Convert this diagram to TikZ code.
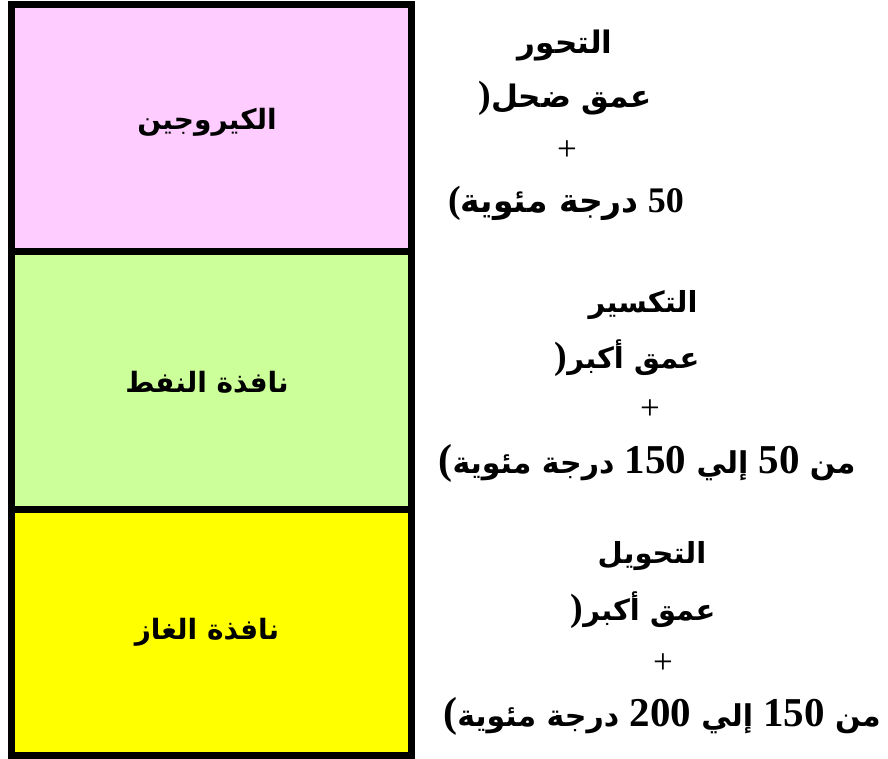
\documentclass[tikz,border=0pt]{standalone}
\usepackage{fontspec}
\TeXXeTstate=1
\newfontfamily\arabicfont[Script=Arabic]{DejaVu Sans}
\newfontfamily\numfont{Liberation Serif}
\definecolor{kpink}{HTML}{FFCCFF}
\definecolor{kgreen}{HTML}{CCFF99}
\definecolor{kyellow}{HTML}{FFFF00}
\newcommand{\AR}[2][31]{{\arabicfont\bfseries\fontsize{#1}{#1}\selectfont\beginR #2\endR}}
\newcommand{\NM}[2][35]{{\numfont\bfseries\fontsize{#1}{#1}\selectfont #2}}
\begin{document}
\begin{tikzpicture}[x=1pt,y=-1pt,
  zone/.style={draw=black,line width=7pt},
  zlabel/.style={inner sep=0pt},
  tline/.style={inner sep=0pt,anchor=center},
  plus/.style={inner sep=0pt,font=\fontsize{35}{38}\selectfont\numfont}]
\useasboundingbox (0,0) rectangle (888,759);
\fill[kpink] (11.5,5) rectangle (411,252);
\fill[kgreen] (11.5,252) rectangle (411,509);
\fill[kyellow] (11.5,509) rectangle (411,755.5);
\draw[zone] (11.5,5) rectangle (411,252);
\draw[zone] (11.5,252) rectangle (411,509);
\draw[zone] (11.5,509) rectangle (411,755.5);
\node[zlabel] (k) at (207,122) {\AR[28]{الكيروجين}};
\node[zlabel] (o) at (207,382) {\AR[28]{نافذة النفط}};
\node[zlabel] (g) at (207,632) {\AR[28]{نافذة الغاز}};
% top block
\node[tline] (a1) at (565,46) {\AR{التحور}};
\node[tline] (a2) at (565,98) {\NM[38]{)}\AR{عمق ضحل}};
\node[plus] (a3) at (567,151) {+};
\node[tline] (a4) at (566,203) {\NM[38]{(}\AR[33]{درجة مئوية}\NM[36]{\ 50}};
% middle block
\node[tline] (b1) at (643,305) {\AR[29]{التكسير}};
\node[tline] (b2) at (627,358) {\NM[38]{)}\AR[29]{عمق أكبر}};
\node[plus] (b3) at (650,410) {+};
\node[tline] (b4) at (647,463) {\NM[42]{(}\AR[30]{درجة مئوية}\NM[41]{\ 150 }\AR[30]{إلي}\NM[41]{\ 50 }\AR[30]{من}};
% bottom block
\node[tline] (c1) at (652,556) {\AR[29]{التحويل}};
\node[tline] (c2) at (643,610) {\NM[38]{)}\AR[29]{عمق أكبر}};
\node[plus] (c3) at (663,664) {+};
\node[tline] (c4) at (662,716) {\NM[42]{(}\AR[30]{درجة مئوية}\NM[41]{\ 200 }\AR[30]{إلي}\NM[41]{\ 150 }\AR[30]{من}};
\end{tikzpicture}
\end{document}
